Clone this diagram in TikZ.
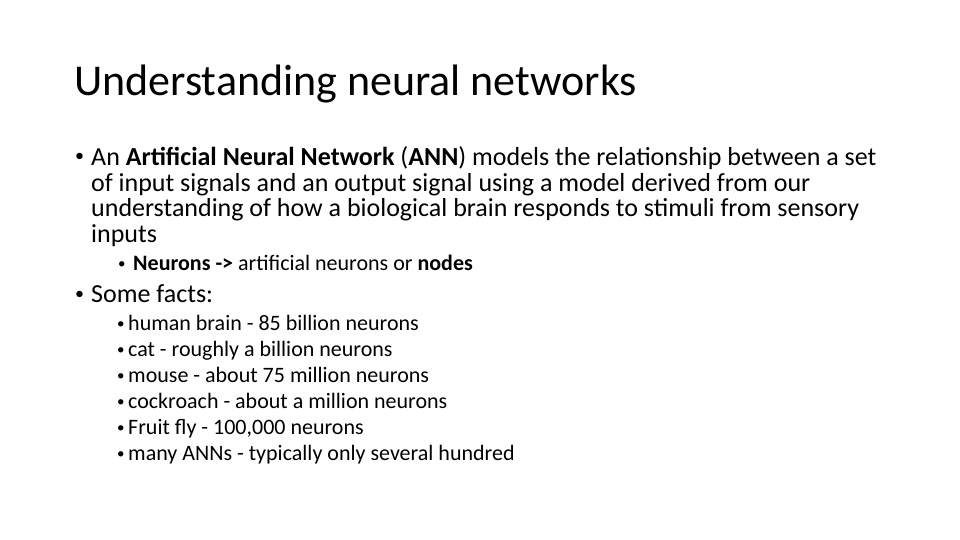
\documentclass[tikz,border=0pt]{standalone}
\usepackage{fontspec}
\setmainfont{Carlito}
\begin{document}
\begin{tikzpicture}[x=1pt,y=-1pt,
  t/.style={anchor=base west,inner sep=0pt,font=\fontsize{26}{30}\selectfont},
  s/.style={anchor=base west,inner sep=0pt,font=\fontsize{22}{26}\selectfont},
  bt/.style={anchor=base west,inner sep=0pt,font=\fontsize{18}{20}\selectfont},
  bs/.style={anchor=base west,inner sep=0pt,font=\fontsize{15}{18}\selectfont}]
\useasboundingbox (0,0) rectangle (960,540);
\node[anchor=base west,inner sep=0pt,font=\fontsize{44}{50}\selectfont] (title) at (74,96) {Understanding neural networks};
\node[bt] (b1) at (75,162) {•};
\node[t] (l1) at (91,165) {An \textbf{Artificial Neural Network} (\textbf{ANN}) models the relationship between a set};
\node[t] (l2) at (91,191) {of input signals and an output signal using a model derived from our};
\node[t] (l3) at (91,216) {understanding of how a biological brain responds to stimuli from sensory};
\node[t] (l4) at (91,242) {inputs};
\node[bs] (b2) at (118,268) {•};
\node[s] (l5) at (133,270) {\textbf{Neurons ->} artificial neurons or \textbf{nodes}};
\node[bt] (b3) at (75,299) {•};
\node[t] (l6) at (91,302) {Some facts:};
\foreach \i/\txt in {0/{human brain - 85 billion neurons},1/{cat - roughly a billion neurons},2/{mouse - about 75 million neurons},3/{cockroach - about a million neurons},4/{Fruit fly - 100,000 neurons},5/{many ANNs - typically only several hundred}}{
  \node[bs] (fb\i) at (117,328+26*\i) {•};
  \node[s] (f\i) at (128,330+26*\i) {\txt};
}
\end{tikzpicture}
\end{document}
